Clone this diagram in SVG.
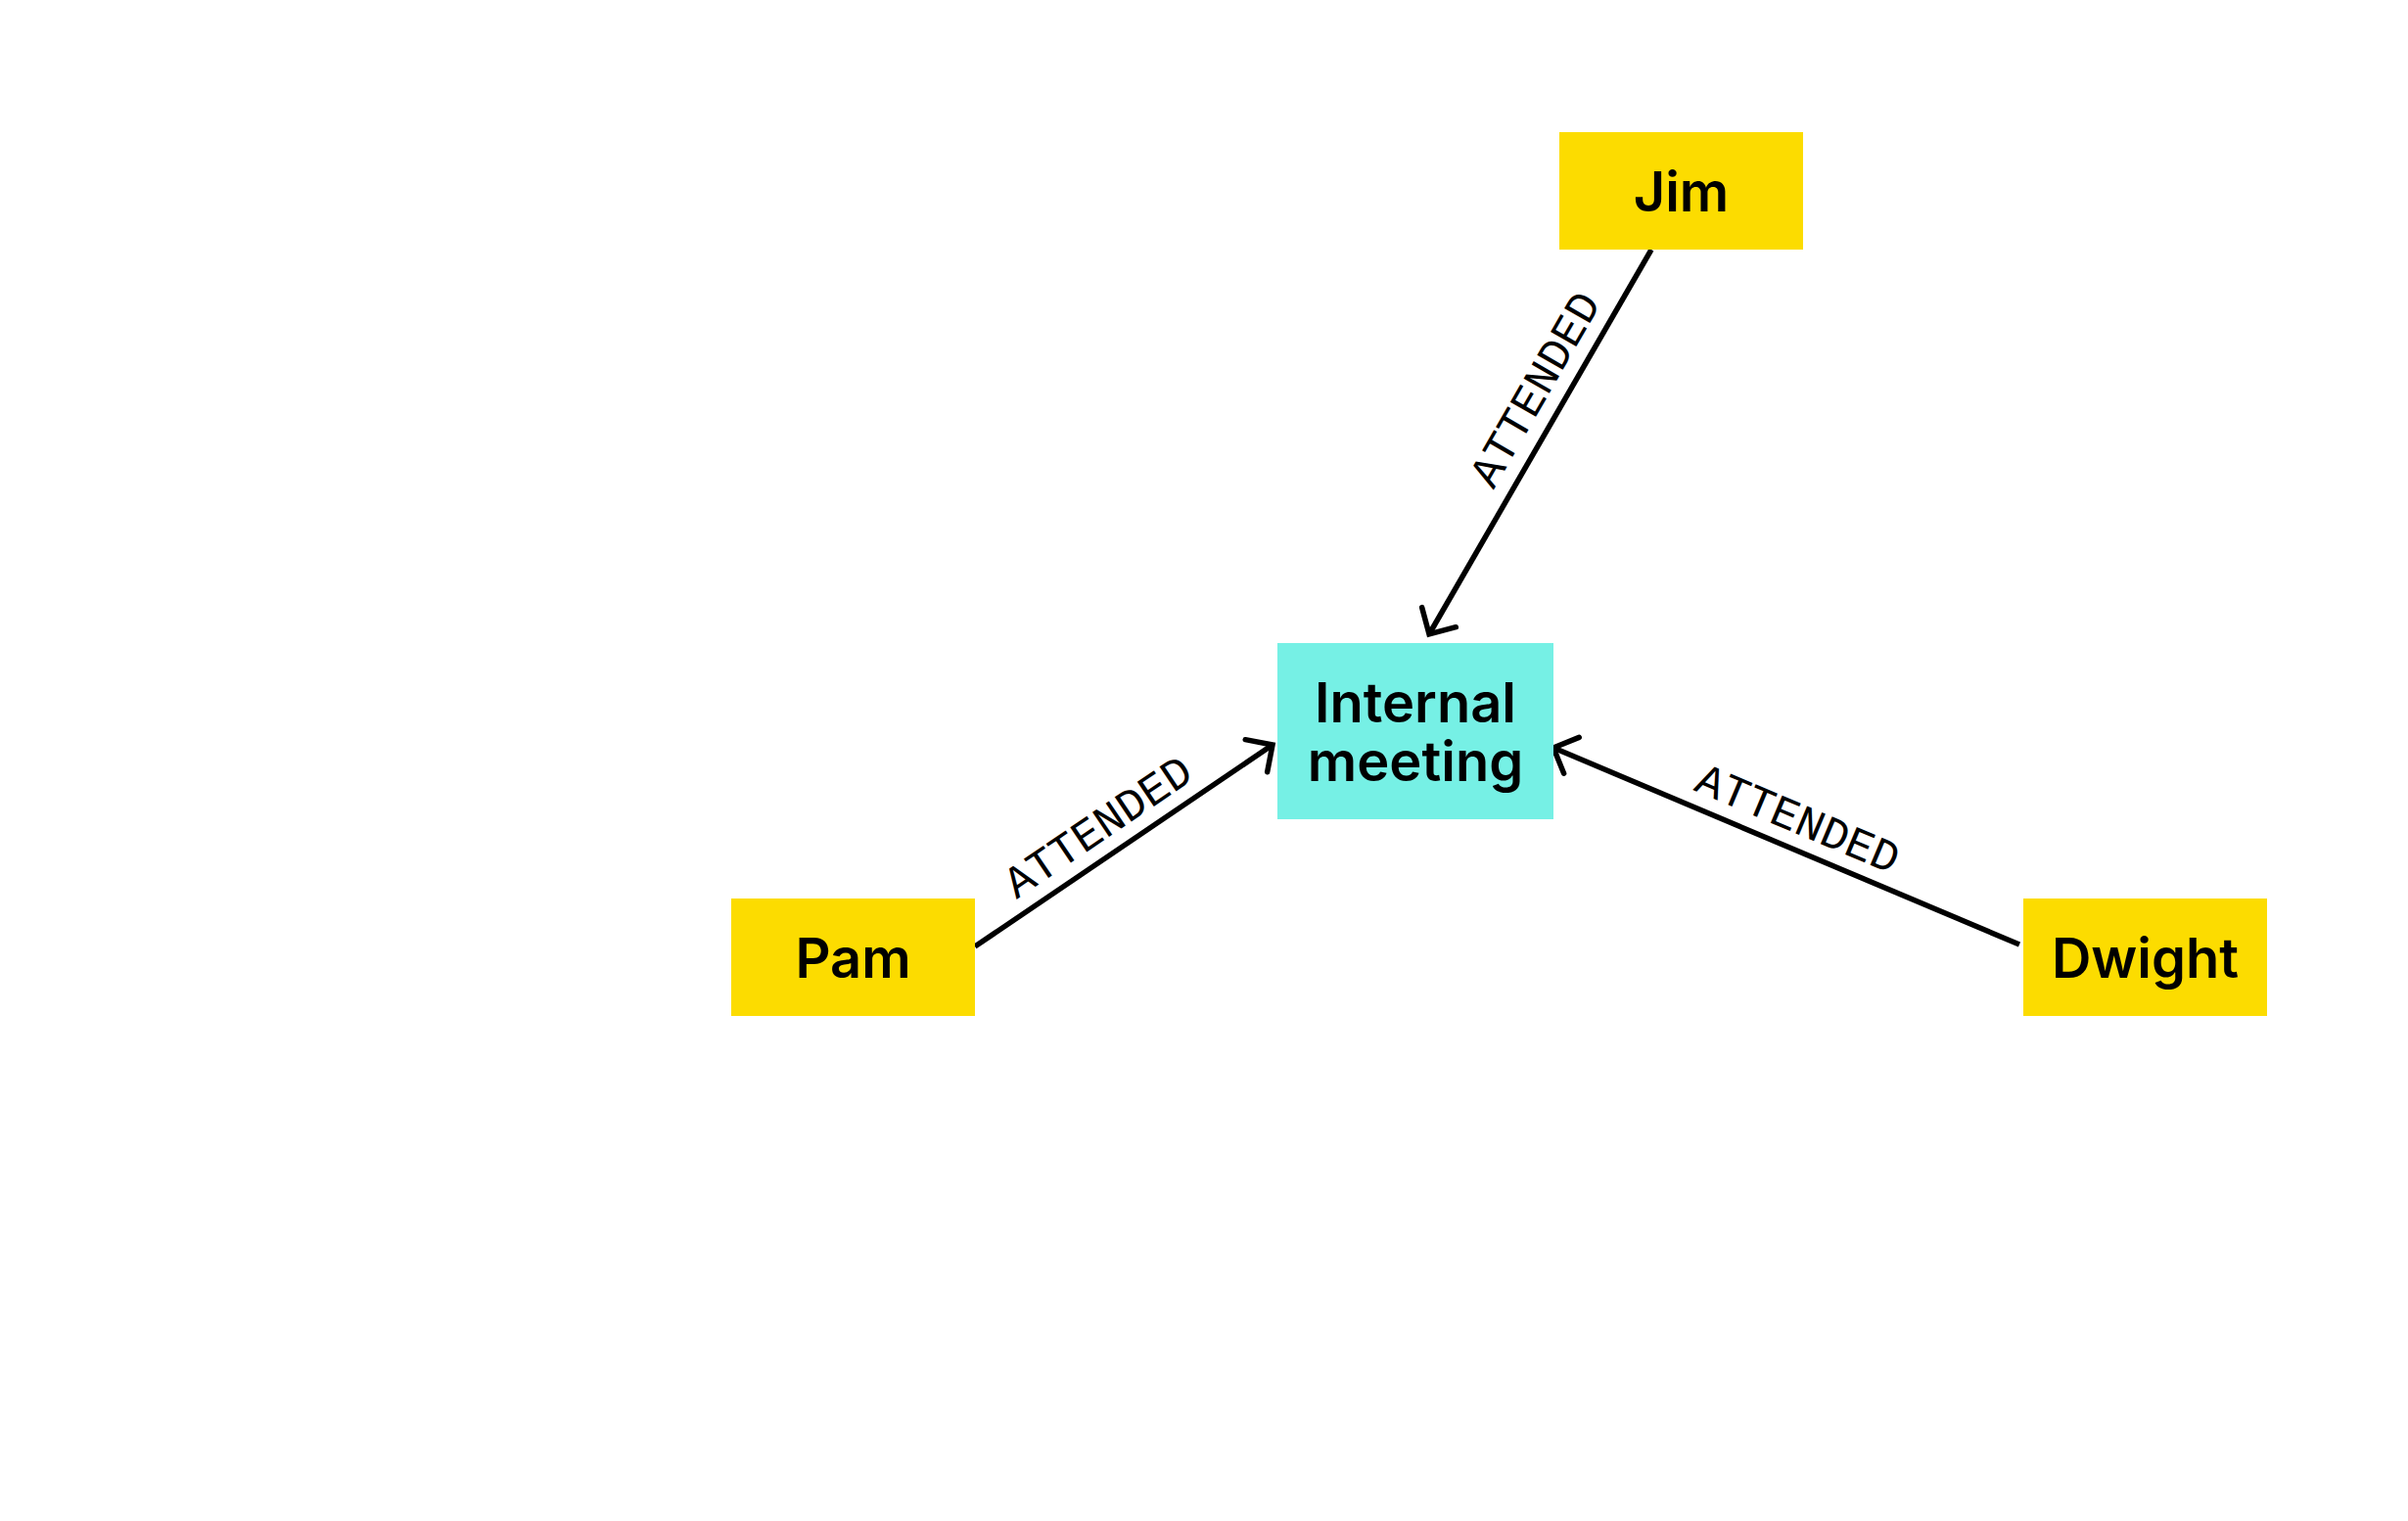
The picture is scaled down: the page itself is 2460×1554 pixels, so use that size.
<svg xmlns="http://www.w3.org/2000/svg" width="2460" height="1554" viewBox="0 0 2460 1554">
  <style>
    .person { fill: #FCDC00; }
    .event { fill: #76F0E5; }
    .nlabel { font-family: Inter, "Liberation Sans", sans-serif; font-weight: 600; font-size: 56px; fill: #000; text-anchor: middle; }
    .edge { stroke: #000; stroke-width: 5.5; fill: none; marker-end: url(#arrow); }
    .elabel { font-family: "Liberation Mono", "DejaVu Sans Mono", monospace; font-size: 46px; fill: #000; text-anchor: middle; }
  </style>
  <defs>
    <marker id="arrow" markerUnits="userSpaceOnUse" markerWidth="60" markerHeight="60" viewBox="-30 -30 60 60" refX="0" refY="0" orient="auto" overflow="visible">
      <path d="M-20,-20 L0,0 L-20,20" fill="none" stroke="#000" stroke-width="5.5" stroke-linecap="round" stroke-linejoin="miter"/>
    </marker>
  </defs>
  <rect width="2460" height="1554" fill="#fff"/>

  <g id="connectors">
    <g id="edge-jim">
      <line class="edge" x1="1687" y1="255" x2="1460" y2="648"/>
      <text class="elabel" transform="translate(1581,405) rotate(-60)">ATTENDED</text>
    </g>
    <g id="edge-pam">
      <line class="edge" x1="996" y1="967" x2="1300" y2="761"/>
      <text class="elabel" transform="translate(1130,857) rotate(-34.1)">ATTENDED</text>
    </g>
    <g id="edge-dwight">
      <line class="edge" x1="2063" y1="965" x2="1587" y2="764"/>
      <text class="elabel" transform="translate(1831,850) rotate(22.9)">ATTENDED</text>
    </g>
  </g>

  <g id="node-jim">
    <rect class="person" x="1593" y="135" width="249" height="120"/>
    <text class="nlabel" x="1717.5" y="216">Jim</text>
  </g>
  <g id="node-internal-meeting">
    <rect class="event" x="1305" y="657" width="282" height="180"/>
    <text class="nlabel" x="1446" y="738">Internal</text>
    <text class="nlabel" x="1446" y="798">meeting</text>
  </g>
  <g id="node-pam">
    <rect class="person" x="747" y="918" width="249" height="120"/>
    <text class="nlabel" x="871.5" y="999">Pam</text>
  </g>
  <g id="node-dwight">
    <rect class="person" x="2067" y="918" width="249" height="120"/>
    <text class="nlabel" x="2191.5" y="999">Dwight</text>
  </g>
</svg>
